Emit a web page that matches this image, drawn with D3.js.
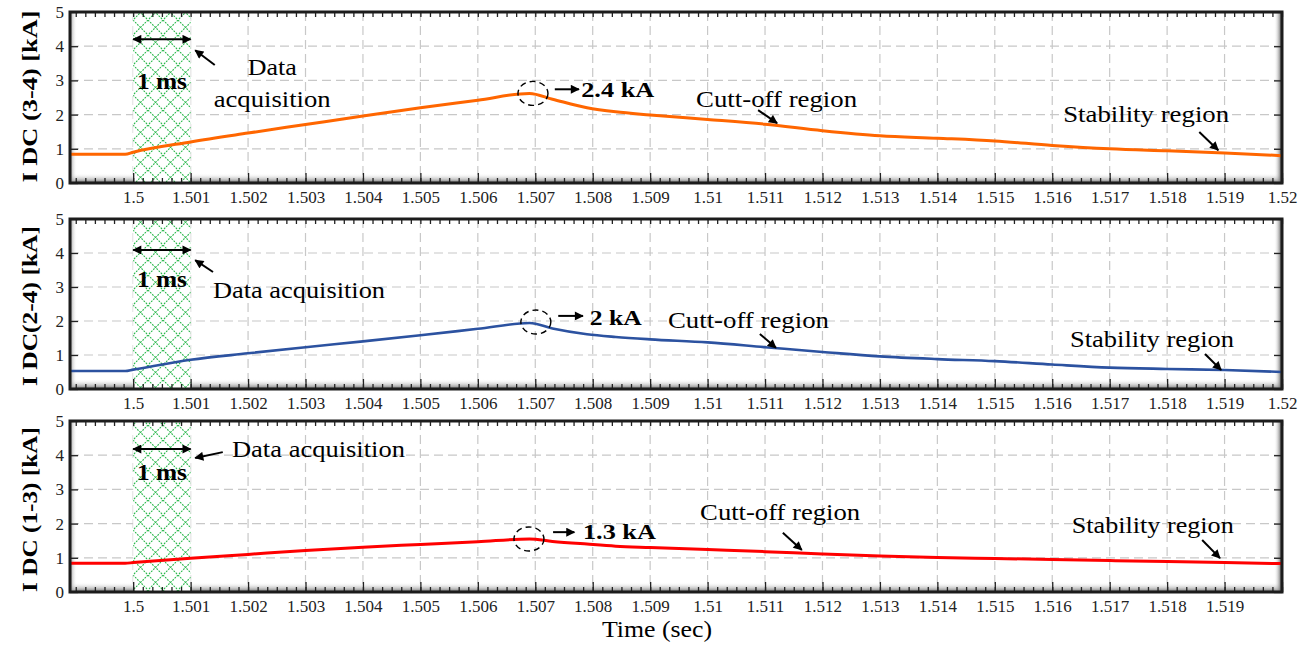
<!DOCTYPE html>
<html lang="en">
<head>
<meta charset="UTF-8">
<script src="https://d3js.org/d3.v7.min.js"></script>
<title>DC currents</title>
<style>
  body { margin: 0; background: #fff; }
  svg text { font-family: "Liberation Serif", "Times New Roman", Times, serif; }
</style>
</head>
<body>
<div id="chart"></div>
<script>
// sample times (sec) and currents (kA)
const times = [1.4989, 1.49986, 1.5, 1.501, 1.502, 1.503, 1.504, 1.505, 1.506, 1.5069, 1.5073, 1.5079, 1.5084,
               1.509, 1.51, 1.511, 1.512, 1.513, 1.514, 1.515, 1.516, 1.517, 1.518, 1.519, 1.52];
const idc34 = [0.84, 0.84, 0.9, 1.2, 1.46, 1.71, 1.96, 2.2, 2.42, 2.62, 2.45, 2.2, 2.08,
               1.99, 1.86, 1.72, 1.53, 1.38, 1.31, 1.23, 1.1, 1.0, 0.94, 0.88, 0.8];
const idc24 = [0.53, 0.53, 0.57, 0.86, 1.05, 1.23, 1.4, 1.58, 1.77, 1.94, 1.78, 1.61, 1.53,
               1.46, 1.37, 1.23, 1.09, 0.96, 0.88, 0.82, 0.72, 0.63, 0.59, 0.56, 0.5];
const idc13 = [0.84, 0.84, 0.86, 0.99, 1.1, 1.21, 1.31, 1.39, 1.47, 1.55, 1.48, 1.4, 1.34,
               1.3, 1.24, 1.18, 1.11, 1.05, 1.01, 0.98, 0.95, 0.92, 0.89, 0.86, 0.83];

const xTicks = [1.5, 1.501, 1.502, 1.503, 1.504, 1.505, 1.506, 1.507, 1.508, 1.509, 1.51,
                1.511, 1.512, 1.513, 1.514, 1.515, 1.516, 1.517, 1.518, 1.519, 1.52];
const yTicks = [0, 1, 2, 3, 4, 5];
const yTitles = ["I DC (3-4) [kA]", "I DC(2-4) [kA]", "I DC (1-3) [kA]"];
const peakLabels = ["2.4 kA", "2 kA", "1.3 kA"];

const W = 1306, H = 648;
const left = 70, right = 1282;

const panels = [
  { top: 12, bottom: 183, vals: idc34, color: "#ff6600", lw: 3, title: 0, titleLen: 172, titleC: 96.5, lastLabel: true,
    notes: { span: [1.5, 1.501, 4.2], ms: [1.5005, 2.75],
      acqArrow: [[1.50142, 3.45], [1.50108, 3.88]],
      acq: [{ s: "Data", t: 1.50242, v: 3.16, w: 49 }, { s: "acquisition", t: 1.50242, v: 2.22, w: 117 }], acqAnchor: "middle",
      ring: [1.50696, 2.62], peakArrow: [[1.50734, 2.74], [1.50776, 2.74]], peak: [1.5078, 2.52, 73],
      cut: [1.5098, 2.23, 161], cutArrow: [[1.51088, 2.13], [1.51121, 1.75]],
      stab: [1.51619, 1.78, 166], stabArrow: [[1.51856, 1.49], [1.51889, 0.96]] } },
  { top: 219, bottom: 389, vals: idc24, color: "#2c52a0", lw: 2.6, title: 1, titleLen: 160, titleC: 306, lastLabel: true,
    notes: { span: [1.5, 1.501, 4.09], ms: [1.5005, 3.0],
      acqArrow: [[1.50139, 3.44], [1.50108, 3.79]],
      acq: [{ s: "Data acquisition", t: 1.50139, v: 2.68, w: 172 }], acqAnchor: "start",
      ring: [1.50701, 1.97], peakArrow: [[1.5074, 2.15], [1.50783, 2.15]], peak: [1.50795, 1.88, 52],
      cut: [1.50931, 1.79, 161], cutArrow: [[1.51091, 1.62], [1.51119, 1.21]],
      stab: [1.51631, 1.24, 164], stabArrow: [[1.51866, 1.03], [1.51894, 0.56]] } },
  { top: 421, bottom: 592, vals: idc13, color: "#ff0000", lw: 3, title: 2, titleLen: 165, titleC: 509.5, lastLabel: false,
    notes: { span: [1.5, 1.501, 4.18], ms: [1.5005, 3.27],
      acqArrow: [[1.50156, 4.09], [1.50108, 3.92]],
      acq: [{ s: "Data acquisition", t: 1.50172, v: 3.95, w: 173 }], acqAnchor: "start",
      ring: [1.50689, 1.55], peakArrow: [[1.50731, 1.75], [1.50768, 1.75]], peak: [1.50783, 1.55, 73],
      cut: [1.50987, 2.11, 160], cutArrow: [[1.51131, 1.73], [1.51164, 1.23]],
      stab: [1.51634, 1.73, 162], stabArrow: [[1.51861, 1.52], [1.51892, 0.99]] } }
];

const svg = d3.select("#chart").append("svg").attr("width", W).attr("height", H);
const defs = svg.append("defs");

// green cross hatch
const pat = defs.append("pattern").attr("id", "hatch").attr("patternUnits", "userSpaceOnUse")
  .attr("width", 15).attr("height", 15).attr("x", 133).attr("y", 5);
pat.append("path").attr("d", "M0,0L15,15M15,0L0,15").attr("fill", "none")
  .attr("stroke", "#2ab84c").attr("stroke-width", 1.1).attr("stroke-dasharray", "1.8,1.2");

defs.append("marker").attr("id", "head").attr("viewBox", "0 0 10 10")
  .attr("refX", 9).attr("refY", 5).attr("markerWidth", 5).attr("markerHeight", 4.5)
  .attr("orient", "auto-start-reverse")
  .append("path").attr("d", "M0,0L10,5L0,10z").attr("fill", "#000");

function grad(id, x2, y2, c0, o0, c1, o1) {
  const g = defs.append("linearGradient").attr("id", id)
    .attr("x1", 0).attr("y1", 0).attr("x2", x2).attr("y2", y2);
  g.append("stop").attr("offset", "0%").attr("stop-color", c0).attr("stop-opacity", o0);
  g.append("stop").attr("offset", "100%").attr("stop-color", c1).attr("stop-opacity", o1);
}
grad("shadeB", 0, 1, "#ffffff", 0, "#6a6a6a", 1);
grad("shadeR", 1, 0, "#ffffff", 0, "#404040", 1);
grad("shadeL", 1, 0, "#8a8a8a", 0.9, "#ffffff", 0);

const x = d3.scaleLinear().domain([1.4989, 1.52]).range([left, right]);
const step = 0.001 / 6;
const minors = d3.range(-6, 127).map(k => 1.5 + k * step).filter(t => t >= x.domain()[0] && t <= x.domain()[1] + 1e-9);
const fmt = d => String(+d.toFixed(3));

panels.forEach((p, pi) => {
  const y = d3.scaleLinear().domain([0, 5]).range([p.bottom, p.top]);
  const g = svg.append("g");
  const n = p.notes;

  // grid
  g.append("g").selectAll("line").data(xTicks.filter(t => t < 1.5199)).join("line")
    .attr("x1", d => x(d)).attr("x2", d => x(d)).attr("y1", p.top).attr("y2", p.bottom)
    .attr("stroke", "#c8c8c8").attr("stroke-width", 1.2).attr("stroke-dasharray", "9,5");
  g.append("g").selectAll("line").data(yTicks.slice(1, -1)).join("line")
    .attr("x1", left).attr("x2", right).attr("y1", d => y(d)).attr("y2", d => y(d))
    .attr("stroke", "#c8c8c8").attr("stroke-width", 1.2).attr("stroke-dasharray", "9,5");

  // bevel shading inside frame
  g.append("rect").attr("x", left).attr("y", p.bottom - 10).attr("width", right - left).attr("height", 10).attr("fill", "url(#shadeB)");
  g.append("rect").attr("x", right - 8).attr("y", p.top).attr("width", 8).attr("height", p.bottom - p.top).attr("fill", "url(#shadeR)");
  g.append("rect").attr("x", left).attr("y", p.top).attr("width", 7).attr("height", p.bottom - p.top).attr("fill", "url(#shadeL)");

  // data acquisition window
  g.append("rect").attr("x", x(1.5)).attr("y", p.top).attr("width", x(1.501) - x(1.5)).attr("height", p.bottom - p.top).attr("fill", "#fff");
  g.append("rect").attr("x", x(1.5)).attr("y", p.top).attr("width", x(1.501) - x(1.5)).attr("height", p.bottom - p.top).attr("fill", "url(#hatch)");

  // inner ticks
  const tickStyle = s => s.call(a => a.select(".domain").remove())
    .call(a => a.selectAll("line").attr("stroke", "#222").attr("stroke-width", 1.3));
  g.append("g").attr("transform", `translate(0,${p.bottom})`)
    .call(d3.axisBottom(x).tickValues(minors).tickSize(-5).tickFormat("")).call(tickStyle);
  g.append("g").attr("transform", `translate(0,${p.bottom})`)
    .call(d3.axisBottom(x).tickValues(xTicks).tickSize(-10).tickFormat("")).call(tickStyle);
  g.append("g").attr("transform", `translate(0,${p.top})`)
    .call(d3.axisTop(x).tickValues(minors).tickSize(-5).tickFormat("")).call(tickStyle);
  g.append("g").attr("transform", `translate(${left},0)`)
    .call(d3.axisLeft(y).tickValues(yTicks).tickSize(-8).tickFormat("")).call(tickStyle);
  g.append("g").attr("transform", `translate(${right},0)`)
    .call(d3.axisRight(y).tickValues(yTicks).tickSize(-8).tickFormat("")).call(tickStyle);

  // tick labels
  const xl = g.append("g").attr("transform", `translate(0,${p.bottom})`)
    .call(d3.axisBottom(x).tickValues(p.lastLabel ? xTicks : xTicks.slice(0, -1)).tickSize(0).tickPadding(8).tickFormat(fmt));
  xl.select(".domain").remove();
  xl.selectAll("text").attr("font-size", 17).attr("fill", "#222");
  const yl = g.append("g").attr("transform", `translate(${left},0)`)
    .call(d3.axisLeft(y).tickValues(yTicks).tickSize(0).tickPadding(6).tickFormat(d3.format("d")));
  yl.select(".domain").remove();
  yl.selectAll("text").attr("font-size", 17).attr("fill", "#222");

  // series line
  const line = d3.line().x((d, i) => x(times[i])).y(d => y(d)).curve(d3.curveMonotoneX);
  g.append("path").datum(p.vals).attr("d", line).attr("fill", "none")
    .attr("stroke", p.color).attr("stroke-width", p.lw).attr("stroke-linejoin", "round");

  // frame
  g.append("rect").attr("x", left).attr("y", p.top).attr("width", right - left).attr("height", p.bottom - p.top)
    .attr("fill", "none").attr("stroke", "#1c1c1c").attr("stroke-width", 3);

  // y title
  g.append("text").attr("transform", `translate(37,${p.titleC}) rotate(-90)`)
    .attr("text-anchor", "middle").attr("font-size", 22).attr("font-weight", "bold")
    .attr("textLength", p.titleLen).attr("lengthAdjust", "spacingAndGlyphs")
    .text(yTitles[p.title]);

  // annotations
  const arrow = (pts, both) => g.append("line")
    .attr("x1", x(pts[0][0])).attr("y1", y(pts[0][1])).attr("x2", x(pts[1][0])).attr("y2", y(pts[1][1]))
    .attr("stroke", "#000").attr("stroke-width", 2).attr("marker-end", "url(#head)")
    .attr("marker-start", both ? "url(#head)" : null);
  const label = (s, t, v, w, size, bold, anchor) => g.append("text")
    .attr("x", x(t)).attr("y", y(v)).attr("text-anchor", anchor || "start")
    .attr("font-size", size).attr("font-weight", bold ? "bold" : "normal")
    .attr("textLength", w).attr("lengthAdjust", "spacingAndGlyphs").text(s);

  arrow([[n.span[0], n.span[2]], [n.span[1], n.span[2]]], true);
  label("1 ms", n.ms[0], n.ms[1], 50, 23, true, "middle");
  arrow(n.acqArrow, false);
  n.acq.forEach(a => label(a.s, a.t, a.v, a.w, 23, false, n.acqAnchor));
  g.append("ellipse").attr("cx", x(n.ring[0])).attr("cy", y(n.ring[1])).attr("rx", 15).attr("ry", 12)
    .attr("fill", "none").attr("stroke", "#000").attr("stroke-width", 1.4).attr("stroke-dasharray", "6,4");
  arrow(n.peakArrow, false);
  label(peakLabels[pi], n.peak[0], n.peak[1], n.peak[2], 22, true);
  label("Cutt-off region", n.cut[0], n.cut[1], n.cut[2], 23, false);
  arrow(n.cutArrow, false);
  label("Stability region", n.stab[0], n.stab[1], n.stab[2], 23, false);
  arrow(n.stabArrow, false);
});

svg.append("text").attr("x", 657).attr("y", 637).attr("text-anchor", "middle")
  .attr("font-size", 24).attr("textLength", 110).attr("lengthAdjust", "spacingAndGlyphs").text("Time (sec)");
</script>
</body>
</html>
